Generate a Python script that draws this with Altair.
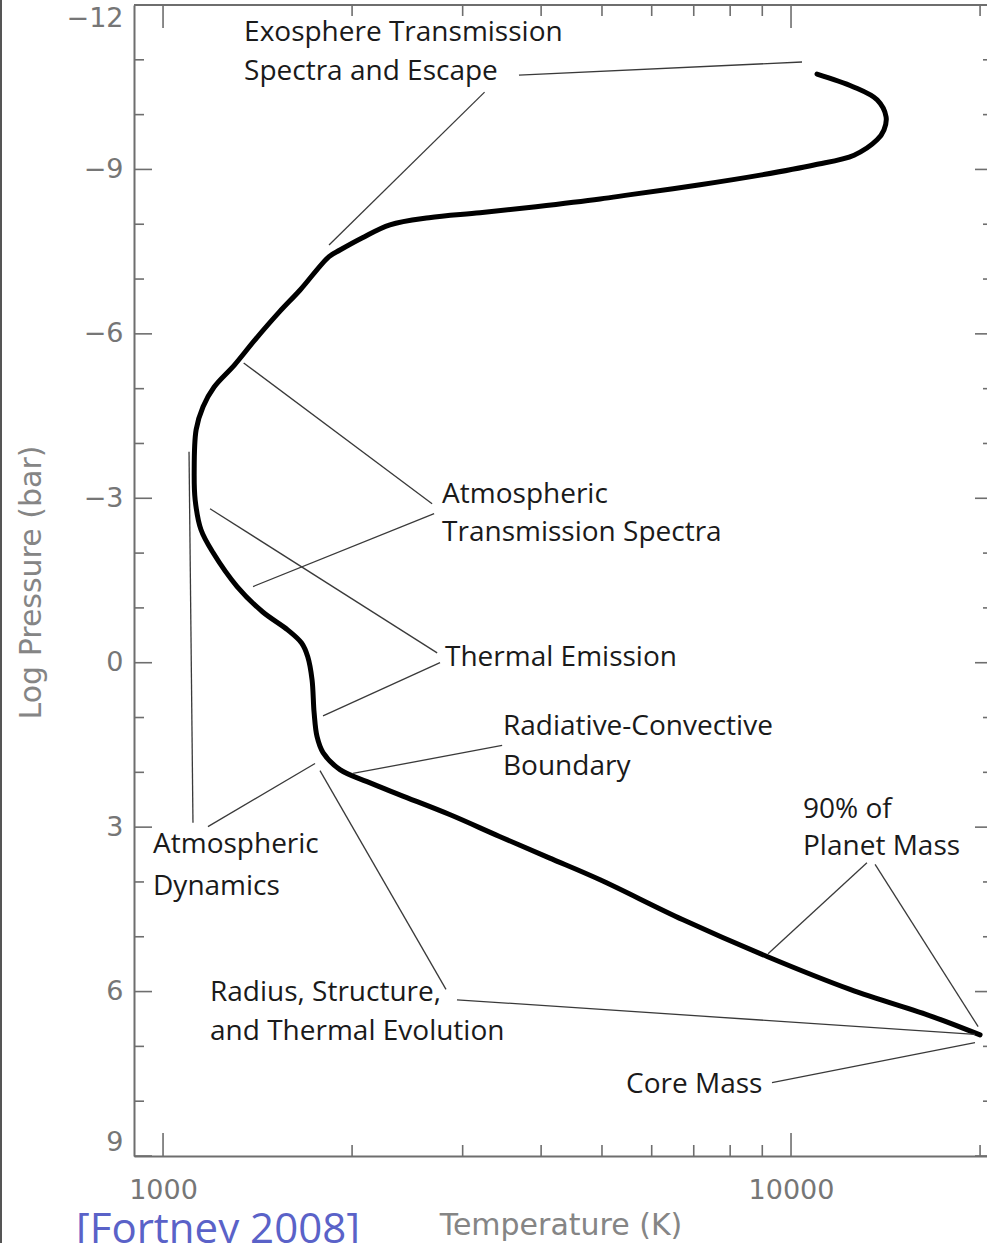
import altair as alt
import pandas as pd

# ---- temperature / pressure profile of a hot Jupiter ----
profile_temp = [11000, 12550, 13710, 14170, 14060, 13710, 12600, 10880, 8980, 7164,
                5552, 4965, 3926, 3197, 2652, 2298, 2074, 1913, 1838, 1653,
                1532, 1401, 1299, 1206, 1158, 1129, 1121, 1125, 1149, 1201,
                1312, 1440, 1579, 1662, 1700, 1727, 1740, 1759, 1798, 1913,
                2113, 2382, 2860, 3434, 4120, 4965, 6730, 9158, 12415, 16830, 20000]
profile_logp = [-10.74, -10.51, -10.27, -9.96, -9.72, -9.54, -9.26, -9.08, -8.90, -8.72,
                -8.54, -8.46, -8.32, -8.21, -8.12, -7.99, -7.75, -7.53, -7.41, -6.80,
                -6.40, -5.89, -5.43, -5.03, -4.67, -4.25, -3.47, -2.97, -2.43, -2.01,
                -1.39, -0.93, -0.60, -0.36, -0.11, 0.31, 0.91, 1.35, 1.64, 1.95,
                2.17, 2.41, 2.77, 3.17, 3.56, 3.96, 4.69, 5.36, 5.96, 6.46, 6.79]

# ---- callout leader lines (start -> end) ----
leader_t1 = [3688, 3251, 2682, 2702, 2732, 2761, 3467, 1100, 1179, 2822, 2938, 9326, 9193, 13610]
leader_p1 = [-10.72, -10.41, -2.90, -2.72, -0.18, 0.00, 1.51, -3.85, 2.99, 5.96, 6.15, 7.66, 5.31, 3.68]
leader_t2 = [10411, 1838, 1344, 1391, 1188, 1798, 2006, 1116, 1746, 1778, 19630, 19630, 13210, 19860]
leader_p2 = [-10.96, -7.62, -5.47, -1.39, -2.81, 0.97, 2.02, 2.92, 1.84, 1.97, 6.78, 6.93, 3.65, 6.64]

# ---- callout texts ----
label_text = ["Exosphere Transmission", "Spectra and Escape",
              "Atmospheric", "Transmission Spectra",
              "Thermal Emission",
              "Radiative-Convective", "Boundary",
              "90% of", "Planet Mass",
              "Atmospheric", "Dynamics",
              "Radius, Structure,", "and Thermal Evolution",
              "Core Mass"]
label_t = [1346, 1346, 2782, 2782, 2812, 3478, 3478, 10450, 10450, 964, 964, 1188, 1188, 5461]
label_p = [-11.49, -10.78, -3.06, -2.37, -0.09, 1.17, 1.90, 2.68, 3.37, 3.32, 4.09, 6.02, 6.73, 7.70]

# ---- axis ticks ----
x_major = [1000, 10000]
x_minor = [2000, 3000, 4000, 5000, 6000, 7000, 8000, 9000, 20000]
y_major = [-12, -9, -6, -3, 0, 3, 6, 9]
y_minor = [-11, -10, -8, -7, -5, -4, -2, -1, 1, 2, 4, 5, 7, 8]

credit = "[Fortney 2008]"

W, H = 853, 1151
FRAME = "#6e6e6e"
INK = "#1a1a1a"
AXIS_TEXT = "#767676"
TITLE_TEXT = "#858585"

x_scale = alt.Scale(type="log", domain=[899, 20515], nice=False)
y_scale = alt.Scale(domain=[-12, 9], reverse=True, nice=False, zero=False)

# one axis definition shared by every layer so the layers merge cleanly
x_axis = alt.Axis(
    values=x_major, format="d", tickSize=0, labelPadding=21, grid=False,
    labelFont="DejaVu Sans", labelFontSize=27, labelColor=AXIS_TEXT,
    domainColor=FRAME, domainWidth=2,
    title="Temperature (K)", titleFont="DejaVu Sans", titleFontSize=30,
    titleFontWeight="normal", titleColor=TITLE_TEXT,
    titleY=69, titleBaseline="middle")
y_axis = alt.Axis(
    values=y_major, tickSize=0, labelPadding=11, labelFlush=True, grid=False,
    labelExpr="datum.value < 0 ? '\u2212' + abs(datum.value) : datum.label",
    labelFont="DejaVu Sans", labelFontSize=27, labelColor=AXIS_TEXT,
    domainColor=FRAME, domainWidth=2,
    title="Log Pressure (bar)", titleFont="DejaVu Sans", titleFontSize=30,
    titleFontWeight="normal", titleColor=TITLE_TEXT, titleAngle=270,
    titleX=-103, titleY=577, titleAlign="center", titleBaseline="middle")


def xenc(field):
    return alt.X(field, scale=x_scale, axis=x_axis)


def yenc(field):
    return alt.Y(field, scale=y_scale, axis=y_axis)


profile = pd.DataFrame({"T": profile_temp, "logP": profile_logp,
                        "idx": list(range(len(profile_temp)))})
leaders = pd.DataFrame({"t1": leader_t1, "p1": leader_p1, "t2": leader_t2, "p2": leader_p2})
labels = pd.DataFrame({"T": label_t, "logP": label_p, "text": label_text})

curve = alt.Chart(profile).mark_line(
    color="black", strokeWidth=5, interpolate="catmull-rom", strokeCap="round"
).encode(x=xenc("T:Q"), y=yenc("logP:Q"), order="idx:Q")


def x_ticks(values, length):
    df = pd.DataFrame({"T": values})
    base = alt.Chart(df).mark_rule(color=FRAME, strokeWidth=1.6)
    bottom = base.encode(x=xenc("T:Q"), y=alt.value(H), y2=alt.value(H - length))
    top = base.encode(x=xenc("T:Q"), y=alt.value(0), y2=alt.value(length))
    return [bottom, top]


def y_ticks(values, length):
    df = pd.DataFrame({"logP": values})
    base = alt.Chart(df).mark_rule(color=FRAME, strokeWidth=1.6)
    left = base.encode(y=yenc("logP:Q"), x=alt.value(0), x2=alt.value(length))
    # right-hand frame sits just past the visible edge
    right = base.encode(y=yenc("logP:Q"), x=alt.value(W + 6 - length), x2=alt.value(W + 6))
    return [left, right]


anchor = alt.Chart(pd.DataFrame({"credit": [credit]}))

top_frame = anchor.mark_rule(color=FRAME, strokeWidth=2).encode(
    x=alt.value(0), x2=alt.value(W + 6), y=alt.value(0))

page_edge = anchor.mark_rule(color="#555555", strokeWidth=2).encode(
    x=alt.value(-133), y=alt.value(-5), y2=alt.value(H + 87))

leader_lines = alt.Chart(leaders).mark_rule(color="#3a3a3a", strokeWidth=1.3).encode(
    x=xenc("t1:Q"), x2="t2:Q", y=yenc("p1:Q"), y2="p2:Q",
)

callouts = alt.Chart(labels).mark_text(
    align="left", baseline="middle", font="Open Sans", fontSize=28, color=INK
).encode(x=xenc("T:Q"), y=yenc("logP:Q"), text="text:N")

credit_text = anchor.mark_text(
    align="left", baseline="alphabetic", font="Open Sans", fontSize=42, color="#5a62c8"
).encode(text="credit:N", x=alt.value(-58), y=alt.value(H + 87))

layers = [curve, top_frame, page_edge, leader_lines, callouts, credit_text]
layers += x_ticks(x_major, 23) + x_ticks(x_minor, 11)
layers += y_ticks(y_major, 18) + y_ticks(y_minor, 10)

chart = alt.layer(*layers).properties(
    width=W, height=H,
    autosize=alt.AutoSizeParams(type="none"),
    padding={"left": 134, "top": 5, "right": 0, "bottom": 87},
).configure_view(stroke=None)

chart.save("out.html", embed_options={"renderer": "svg", "actions": False})
